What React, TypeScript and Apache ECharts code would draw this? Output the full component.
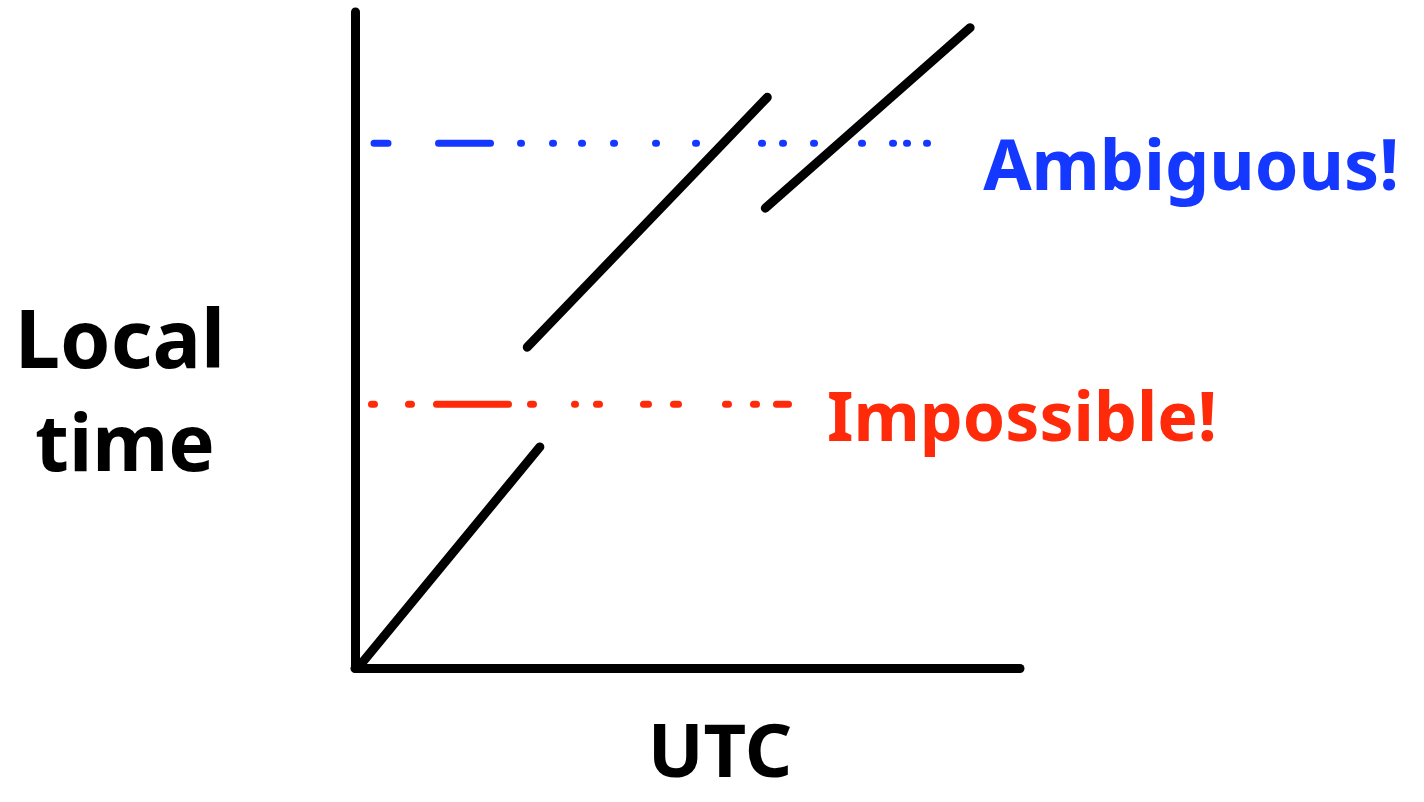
import React, { useEffect, useRef } from "react";
import * as echarts from "echarts";

// Data coordinates (0..100 on both axes)
const earlySegment: [number, number][] = [[0.9, 0.6], [27.8, 33.7]];
const middleSegment: [number, number][] = [[25.9, 48.9], [62.0, 87.0]];
const lateSegment: [number, number][] = [[61.7, 70.1], [92.5, 97.6]];
const ambiguousLevel: [number, number][] = [[2.86, 80.0], [86.2, 80.0]];
const impossibleLevel: [number, number][] = [[2.48, 40.2], [65.2, 40.2]];

const yLabelLines = ["Local", "time"];
const xLabel = "UTC";
const ambiguousLabel = "Ambiguous!";
const impossibleLabel = "Impossible!";

const BLUE = "#1438ff";
const RED = "#ff2a0a";
const FONT = '"Noto Sans", sans-serif';

export default function App() {
  const ref = useRef<HTMLDivElement>(null);
  useEffect(() => {
    if (!ref.current) return;
    const chart = echarts.init(ref.current, null, { renderer: "svg" });
    const black = (data: [number, number][]) => ({
      type: "line",
      data,
      symbol: "none",
      lineStyle: { color: "#000", width: 9, cap: "round" },
      silent: true,
    });
    chart.setOption({
      animation: false,
      backgroundColor: "#fff",
      grid: { left: 355, top: 12, width: 665, height: 656 },
      xAxis: {
        type: "value",
        min: 0,
        max: 100,
        axisLine: { show: true, lineStyle: { color: "#000", width: 9, cap: "round" } },
        axisTick: { show: false },
        axisLabel: { show: false },
        splitLine: { show: false },
      },
      yAxis: {
        type: "value",
        min: 0,
        max: 100,
        axisLine: { show: true, lineStyle: { color: "#000", width: 9, cap: "round" } },
        axisTick: { show: false },
        axisLabel: { show: false },
        splitLine: { show: false },
      },
      series: [
        {
          type: "line",
          data: ambiguousLevel,
          symbol: "none",
          silent: true,
          lineStyle: {
            color: BLUE,
            width: 7,
            cap: "round",
            type: [14, 50.5, 52, 30, 1, 31, 1, 28, 1, 31, 1, 41, 1, 39, 1, 65, 1, 20, 1, 30, 1, 47, 1, 30, 1, 13, 1, 19, 1, 2000],
          },
        },
        {
          type: "line",
          data: impossibleLevel,
          symbol: "none",
          silent: true,
          lineStyle: {
            color: RED,
            width: 7,
            cap: "round",
            type: [3, 34, 3, 25, 72, 22, 3, 41, 1, 21, 3, 44, 5, 25, 5, 47, 3, 25, 3, 20, 12, 2000],
          },
        },
        black(earlySegment),
        black(middleSegment),
        black(lateSegment),
      ],
      graphic: [
        {
          type: "text",
          x: 120,
          y: 336,
          style: { text: yLabelLines[0], font: `bold 81px ${FONT}`, fill: "#000", textAlign: "center", textVerticalAlign: "middle" },
        },
        {
          type: "text",
          x: 125,
          y: 441,
          style: { text: yLabelLines[1], font: `bold 78px ${FONT}`, fill: "#000", textAlign: "center", textVerticalAlign: "middle" },
        },
        {
          type: "text",
          x: 720,
          y: 748,
          style: { text: xLabel, font: `bold 74px ${FONT}`, fill: "#000", textAlign: "center", textVerticalAlign: "middle" },
        },
        {
          type: "text",
          x: 1191,
          y: 163,
          style: { text: ambiguousLabel, font: `bold 70px ${FONT}`, fill: BLUE, textAlign: "center", textVerticalAlign: "middle" },
        },
        {
          type: "text",
          x: 1022,
          y: 414,
          style: { text: impossibleLabel, font: `bold 68px ${FONT}`, fill: RED, textAlign: "center", textVerticalAlign: "middle" },
        },
      ],
    });
    return () => chart.dispose();
  }, []);
  return <div ref={ref} style={{ width: 1424, height: 802, position: "absolute", left: 0, top: 0 }} />;
}
